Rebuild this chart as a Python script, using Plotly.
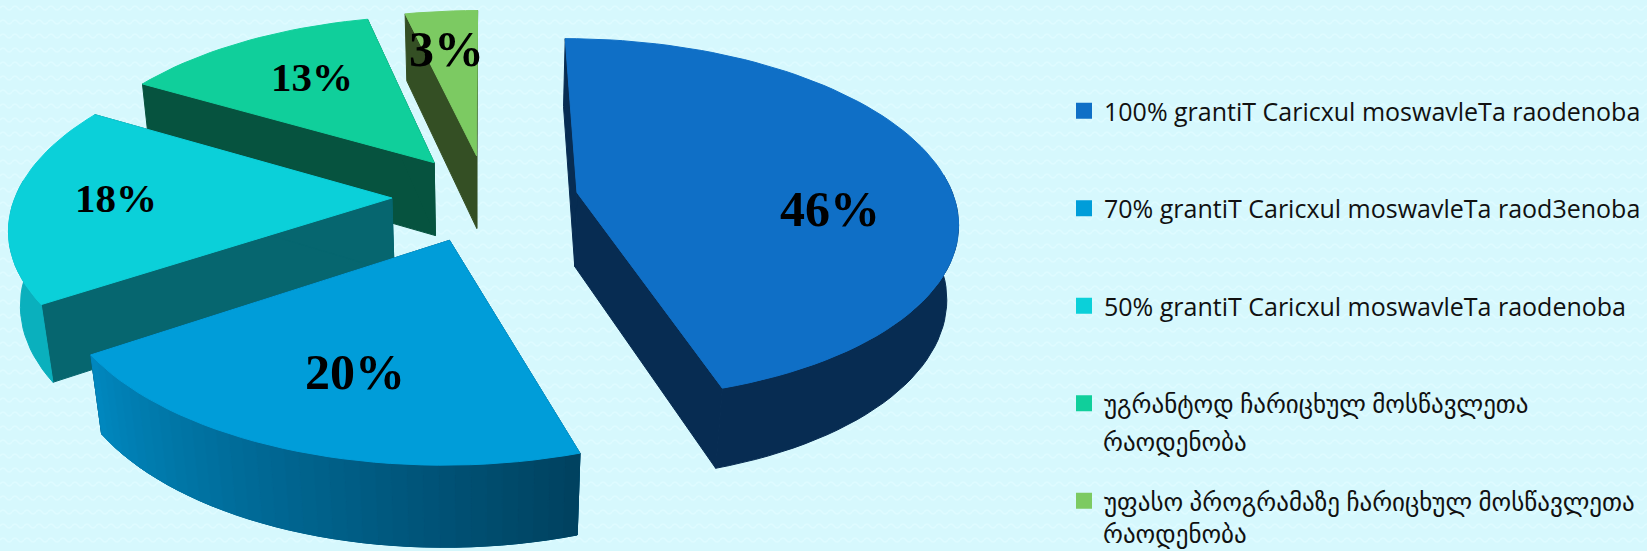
import base64
import math
import plotly.graph_objects as go

# ---- data ----
labels = [
    "100% grantiT Caricxul moswavleTa raodenoba",
    "70% grantiT Caricxul moswavleTa raod3enoba",
    "50% grantiT Caricxul moswavleTa raodenoba",
    "უგრანტოდ ჩარიცხულ მოსწავლეთა",
    "უფასო პროგრამაზე ჩარიცხულ მოსწავლეთა",
]
label_second_lines = ["", "", "", "რაოდენობა", "რაოდენობა"]
values = [46, 20, 18, 13, 3]

# ---- style ----
top_colors = ["#0F6FC6", "#009DD9", "#0BD0D9", "#10CF9B", "#7CCA62"]
wall_colors = ["#072C52", "#004260", "#06666F", "#06533F", "#344F24"]
side_from = ["#072C52", "#004260", "#0AB0BD", "#0A8A68", "#4F8A3C"]
side_to = ["#072C52", "#0087BE", "#0AB0BD", "#0A8A68", "#4F8A3C"]
label_xy = [(830, 209), (355, 372), (116, 198), (312, 77), (446, 49)]
label_size = [50, 50, 41, 41, 50]
second_line_y = [441, 533]
paint_order = [4, 3, 2, 0, 1]
# perspective correction of the slice boundaries, in degrees
boundary_shift = [0, -3, -1, -2.2, -2.3, 0]

W, H = 1647, 551
CX, CY = 485, 198
A, B = 377, 178
K, M = 0.147, 0.025
DEPTH, EXPLODE = 76, 0.247
LEGEND_FONT = "Open Sans, DejaVu Sans, sans-serif"


def project(x, y, d):
    p = 1 / (1 + K * y + M * d)
    return CX + A * x * p, CY - B * y * p + DEPTH * d * p


def mix(c1, c2, t):
    a = [int(c1[i:i + 2], 16) for i in (1, 3, 5)]
    b = [int(c2[i:i + 2], 16) for i in (1, 3, 5)]
    return "rgb(%d,%d,%d)" % tuple(round(u + (v - u) * t) for u, v in zip(a, b))


def poly(pts, color):
    return go.Scatter(
        x=[p[0] for p in pts] + [pts[0][0]],
        y=[p[1] for p in pts] + [pts[0][1]],
        mode="lines", fill="toself", fillcolor=color,
        line=dict(color=color, width=1),
        hoverinfo="skip", showlegend=False,
    )


total = sum(values)
fig = go.Figure()
starts = [360 * sum(values[:i]) / total for i in range(len(values))]
for i in paint_order:
    t0 = starts[i]
    t1 = t0 + 360 * values[i] / total
    mid = math.radians((t0 + t1) / 2)
    ox, oy = EXPLODE * math.sin(mid), EXPLODE * math.cos(mid)
    d0, d1 = t0 + boundary_shift[i], t1 + boundary_shift[i + 1]
    n = max(4, int((d1 - d0) / 2))
    thetas = [math.radians(d0 + (d1 - d0) * j / n) for j in range(n + 1)]
    rim = [(ox + math.sin(t), oy + math.cos(t)) for t in thetas]
    apex = (ox, oy)

    for edge in (rim[0], rim[-1]):
        fig.add_trace(poly([project(*apex, 0), project(*edge, 0),
                            project(*edge, 1), project(*apex, 1)], wall_colors[i]))

    front = [j for j in range(n + 1) if math.cos(thetas[j]) < 0.1]
    if len(front) > 1:
        top_edge = [project(*rim[j], 0) for j in front]
        bot_edge = [project(*rim[j], 1) for j in reversed(front)]
        fig.add_trace(poly(top_edge + bot_edge, mix(side_from[i], side_to[i], 0.5)))
        if side_from[i] != side_to[i]:
            for a, b in zip(front[:-1], front[1:]):
                f = (a - front[0]) / max(1, len(front) - 2)
                fig.add_trace(poly([project(*rim[a], 0), project(*rim[b], 0),
                                    project(*rim[b], 1), project(*rim[a], 1)],
                                   mix(side_from[i], side_to[i], f)))

    fig.add_trace(poly([project(*apex, 0)] + [project(*r, 0) for r in rim], top_colors[i]))

for i, name in enumerate(labels):
    fig.add_trace(go.Scatter(
        x=[None], y=[None], mode="markers", name=name,
        marker=dict(symbol="square", size=16, color=top_colors[i]),
        legendgroup=str(i), legendrank=i + 1, hoverinfo="skip",
    ))

for i, v in enumerate(values):
    fig.add_annotation(
        x=label_xy[i][0], y=label_xy[i][1], text=f"<b>{v}%</b>", showarrow=False,
        font=dict(family="Liberation Serif, serif", size=label_size[i], color="#000000"),
    )

for text, y in zip([t for t in label_second_lines if t], second_line_y):
    fig.add_annotation(
        x=1101, y=y, text=text, showarrow=False, xanchor="left",
        font=dict(family=LEGEND_FONT, size=25, color="#111111"),
    )

tile = (
    '<svg xmlns="http://www.w3.org/2000/svg" width="1647" height="551">'
    '<defs><pattern id="w" width="12" height="14" patternUnits="userSpaceOnUse">'
    '<path d="M0 8 Q3 4 6 8 T12 8" fill="none" stroke="#DEFBFF" stroke-width="1.6"/>'
    '</pattern></defs><rect width="1647" height="551" fill="#D6F8FD"/>'
    '<rect width="1647" height="551" fill="url(#w)"/></svg>'
)
fig.add_layout_image(
    source="data:image/svg+xml;base64," + base64.b64encode(tile.encode()).decode(),
    xref="x", yref="y", x=0, y=0, sizex=W, sizey=H,
    sizing="stretch", xanchor="left", yanchor="top", layer="below",
)

fig.update_layout(
    width=W, height=H, margin=dict(l=0, r=0, t=0, b=0, autoexpand=False),
    paper_bgcolor="#D6F8FD", plot_bgcolor="#D6F8FD",
    xaxis=dict(range=[0, W], visible=False, fixedrange=True),
    yaxis=dict(range=[H, 0], visible=False, fixedrange=True),
    legend=dict(
        x=1064 / W, xanchor="left", y=1 - 88 / H, yanchor="top",
        bgcolor="rgba(0,0,0,0)", tracegroupgap=62, itemclick=False, itemdoubleclick=False,
        font=dict(family=LEGEND_FONT, size=25, color="#111111"),
    ),
)
fig.write_html(
    "out.html", config={"displayModeBar": False},
    post_script="document.body.style.margin='0';document.body.style.overflow='hidden';",
)
